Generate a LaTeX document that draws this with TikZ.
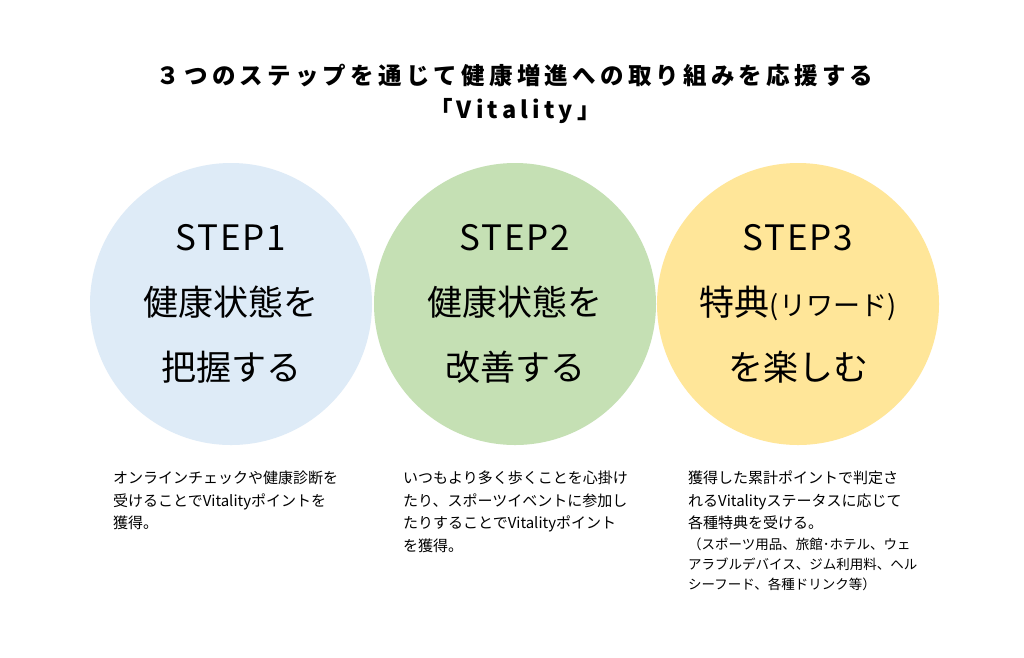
\documentclass[tikz,border=0pt]{standalone}
\usepackage{fontspec}
\setmainfont{Noto Sans CJK JP}
\definecolor{stepblue}{HTML}{DEEBF7}
\definecolor{stepgreen}{HTML}{C5E0B4}
\definecolor{stepyellow}{HTML}{FFE699}
\newcommand{\steplabel}[1]{{\addfontfeature{LetterSpace=5}#1}}
\begin{document}
\begin{tikzpicture}[x=1pt,y=-1pt,line join=round,line cap=round]
	\tikzset{every node/.style={inner sep=0pt,text=black},
		stepcircle/.style={circle,minimum size=282pt,align=center,font=\fontsize{35}{65}\selectfont},
		desc/.style={anchor=north west,align=left,font=\fontsize{15}{22.5}\selectfont}}
	\fill[white] (0,0) rectangle (1024,657);
	\useasboundingbox (0,0) rectangle (1024,657);
	\node[align=center,font=\bfseries\fontsize{23.5}{34}\selectfont\addfontfeature{LetterSpace=18}] (title) at (515,94) {３つのステップを通じて健康増進への取り組みを応援する\\「Vitality」};
	\node[stepcircle,fill=stepblue] (step1) at (231,304) {\steplabel{STEP1}\\健康状態を\\把握する};
	\node[stepcircle,fill=stepgreen] (step2) at (515,304) {\steplabel{STEP2}\\健康状態を\\改善する};
	\node[stepcircle,fill=stepyellow] (step3) at (798,304) {\steplabel{STEP3}\\特典{\fontsize{27}{27}\selectfont(リワード)}\\を楽しむ};
	\node[desc] (desc1) at (113,471) {オンラインチェックや健康診断を\\受けることでVitalityポイントを\\獲得。};
	\node[desc] (desc2) at (403,471) {いつもより多く歩くことを心掛け\\たり、スポーツイベントに参加し\\たりすることでVitalityポイント\\を獲得。};
	\node[desc] (desc3) at (688,471) {獲得した累計ポイントで判定さ\\れるVitalityステータスに応じて\\各種特典を受ける。};
	\node[desc,font=\fontsize{13.5}{20}\selectfont] (note3) at (688,538) {（スポーツ用品、旅館･ホテル、ウェ\\アラブルデバイス、ジム利用料、ヘル\\シーフード、各種ドリンク等）};
\end{tikzpicture}
\end{document}
